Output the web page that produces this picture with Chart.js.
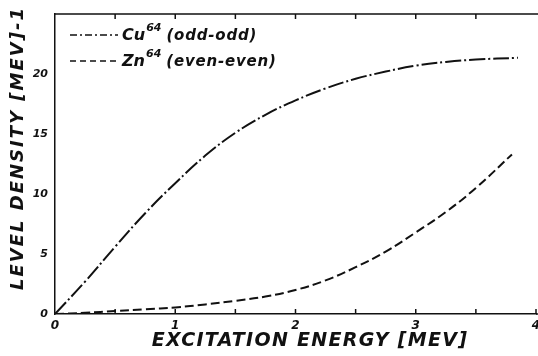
<!DOCTYPE html>
<html>
<head>
<meta charset="utf-8">
<script src="https://cdn.jsdelivr.net/npm/chart.js@4/dist/chart.umd.min.js"></script>
<style>
  html, body { margin: 0; padding: 0; background: #fff; }
  #wrap { width: 538px; height: 356px; }
</style>
</head>
<body>
<div id="wrap"><canvas id="grafico"></canvas></div>
<script>
// excitation energy [MeV] and level density
var energiaCu = [0, 0.25, 0.5, 0.75, 1, 1.25, 1.5, 1.75, 2, 2.25, 2.5, 2.75, 3, 3.25, 3.5, 3.85]
var densidadeCu = [0, 2.7, 5.6, 8.4, 10.9, 13.2, 15.1, 16.6, 17.8, 18.8, 19.6, 20.2, 20.7, 21.0, 21.2, 21.35]

var energiaZn = [0, 0.25, 0.5, 0.75, 1, 1.25, 1.5, 1.75, 2, 2.25, 2.5, 2.75, 3, 3.25, 3.5, 3.8]
var densidadeZn = [0, 0.1, 0.25, 0.4, 0.55, 0.8, 1.1, 1.45, 2.0, 2.8, 3.9, 5.2, 6.8, 8.5, 10.5, 13.3]

var nomes = ['Cu', 'Zn']
var massa = '64'
var tipos = ['(odd-odd)', '(even-even)']
var ticksX = [0, 0.5, 1, 1.5, 2, 2.5, 3, 3.5, 4]

var tituloX = 'EXCITATION ENERGY [MEV]'
var tituloY = 'LEVEL DENSITY [MEV]-1'

var fonte = 'DejaVu Sans'
var tracoCu = [16, 3, 2, 3]
var tracoZn = [9, 4]

function pontos(xs, ys) {
  var out = []
  for (var i = 0; i < xs.length; i++) {
    out.push({ x: xs[i], y: ys[i] })
  }
  return out
}

// inward ticks, top border, axis titles and the legend inside the plot
var extras = {
  id: 'extras',
  afterDraw: function (chart) {
    var ctx = chart.ctx
    var a = chart.chartArea
    var sx = chart.scales.x
    ctx.save()
    ctx.strokeStyle = '#111'
    ctx.lineWidth = 1.5
    ctx.beginPath()
    ctx.moveTo(a.left, a.top)
    ctx.lineTo(538, a.top)
    ctx.moveTo(a.right, a.bottom)
    ctx.lineTo(538, a.bottom)
    ctx.stroke()
    for (var i = 1; i < ticksX.length; i++) {
      var px = sx.getPixelForValue(ticksX[i])
      ctx.beginPath()
      ctx.moveTo(px, a.bottom)
      ctx.lineTo(px, a.bottom - 5)
      ctx.stroke()
      if (ticksX[i] < 4) {
        ctx.beginPath()
        ctx.moveTo(px, a.top)
        ctx.lineTo(px, a.top + 5)
        ctx.stroke()
      }
    }

    ctx.fillStyle = '#111'
    ctx.textAlign = 'center'
    ctx.textBaseline = 'middle'
    ctx.font = 'italic bold 19px "' + fonte + '"'
    ctx.letterSpacing = '1.3px'
    ctx.fillText(tituloX, 310, 341)
    ctx.save()
    ctx.translate(18, 148)
    ctx.rotate(-Math.PI / 2)
    ctx.font = 'italic bold 18px "' + fonte + '"'
    ctx.letterSpacing = '2px'
    ctx.fillText(tituloY, 0, 0)
    ctx.restore()
    ctx.letterSpacing = '0px'

    // legend
    ctx.textAlign = 'left'
    ctx.textBaseline = 'alphabetic'
    var tracos = [[7, 3, 2, 3], [6, 4]]
    var linhas = [35, 61]
    for (var j = 0; j < nomes.length; j++) {
      var y = linhas[j]
      ctx.setLineDash(tracos[j])
      ctx.lineWidth = 1.6
      ctx.beginPath()
      ctx.moveTo(70, y)
      ctx.lineTo(118, y)
      ctx.stroke()
      ctx.setLineDash([])
      ctx.font = 'italic bold 16px "' + fonte + '"'
      ctx.fillText(nomes[j], 122, y + 5)
      var w = ctx.measureText(nomes[j]).width
      ctx.font = 'italic bold 11px "' + fonte + '"'
      ctx.fillText(massa, 122 + w + 1, y - 4)
      var w2 = ctx.measureText(massa).width
      ctx.font = 'italic bold 15px "' + fonte + '"'
      ctx.letterSpacing = '0.8px'
      ctx.fillText(tipos[j], 122 + w + w2 + 6, y + 5)
      ctx.letterSpacing = '0px'
    }
    ctx.restore()
  }
}

var grafico = new Chart(document.getElementById('grafico'), {
  type: 'line',
  data: {
    datasets: [
      {
        label: 'Cu64 (odd-odd)',
        data: pontos(energiaCu, densidadeCu),
        borderColor: '#111',
        borderWidth: 2,
        borderDash: tracoCu,
        pointRadius: 0,
        tension: 0.4,
        fill: false
      },
      {
        label: 'Zn64 (even-even)',
        data: pontos(energiaZn, densidadeZn),
        borderColor: '#111',
        borderWidth: 2,
        borderDash: tracoZn,
        pointRadius: 0,
        tension: 0.4,
        fill: false
      }
    ]
  },
  options: {
    responsive: true,
    maintainAspectRatio: false,
    animation: false,
    layout: { padding: { top: 14, right: 0, left: 0, bottom: 0 } },
    plugins: {
      legend: { display: false },
      tooltip: { enabled: false }
    },
    scales: {
      x: {
        type: 'linear',
        min: 0,
        max: 4,
        afterBuildTicks: function (s) {
          s.ticks = ticksX.map(function (v) { return { value: v } })
        },
        afterFit: function (s) {
          s.height = 42
          s.paddingRight = 2
        },
        grid: { display: false, drawTicks: false },
        border: { display: true, color: '#111', width: 1.5 },
        ticks: {
          color: '#111',
          padding: 5,
          maxRotation: 0,
          font: { family: fonte, style: 'italic', weight: 'bold', size: 12 },
          callback: function (v) { return Number.isInteger(v) ? String(v) : '' }
        }
      },
      y: {
        min: 0,
        max: 25,
        afterFit: function (s) { s.width = 55 },
        grid: { display: false, drawTicks: true, tickLength: 5, tickColor: '#111', tickWidth: 1.5 },
        border: { display: true, color: '#111', width: 1.5 },
        ticks: {
          stepSize: 5,
          color: '#111',
          padding: 2,
          font: { family: fonte, style: 'italic', weight: 'bold', size: 11 },
          callback: function (v) { return v < 25 ? String(v) : '' }
        }
      }
    }
  },
  plugins: [extras]
})
</script>
</body>
</html>
